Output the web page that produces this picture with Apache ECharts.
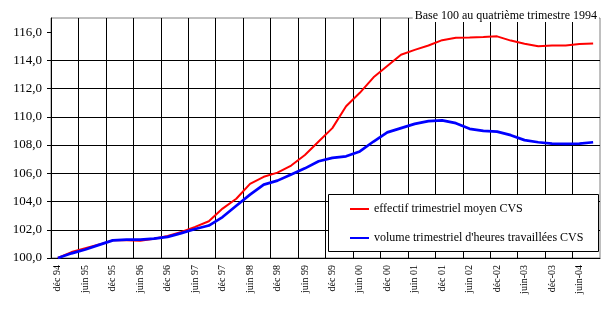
<!DOCTYPE html>
<html>
<head>
<meta charset="utf-8">
<script src="https://cdn.jsdelivr.net/npm/echarts@6/dist/echarts.min.js"></script>
<style>
  html, body { margin: 0; padding: 0; background: #fff; }
  #chart { width: 605px; height: 328px; }
</style>
</head>
<body>
<div id="chart"></div>
<script>
// Quarterly periods, fourth quarter 1994 to third quarter 2004
const quarters = [
  'déc 94', 'mars 95', 'juin 95', 'sept 95', 'déc 95', 'mars 96', 'juin 96', 'sept 96',
  'déc 96', 'mars 97', 'juin 97', 'sept 97', 'déc 97', 'mars 98', 'juin 98', 'sept 98',
  'déc 98', 'mars 99', 'juin 99', 'sept 99', 'déc 99', 'mars 00', 'juin 00', 'sept 00',
  'déc 00', 'mars 01', 'juin 01', 'sept 01', 'déc 01', 'mars 02', 'juin 02', 'sept 02',
  'déc-02', 'mars-03', 'juin-03', 'sept-03', 'déc-03', 'mars-04', 'juin-04', 'sept-04'
];

// Average quarterly headcount, seasonally adjusted (base 100 = Q4 1994)
const effectif = [
  100.0, 100.42, 100.7, 100.95, 101.25, 101.25, 101.22, 101.37,
  101.56, 101.84, 102.2, 102.6, 103.5, 104.2, 105.25, 105.75,
  106.05, 106.55, 107.3, 108.25, 109.2, 110.75, 111.7, 112.8,
  113.6, 114.4, 114.74, 115.05, 115.43, 115.6, 115.62, 115.65,
  115.7, 115.4, 115.18, 115.0, 115.05, 115.05, 115.15, 115.2
];

// Quarterly volume of hours worked, seasonally adjusted (base 100 = Q4 1994)
const volumeHeures = [
  100.0, 100.33, 100.6, 100.93, 101.25, 101.3, 101.3, 101.37,
  101.5, 101.76, 102.05, 102.3, 102.9, 103.7, 104.49, 105.2,
  105.48, 105.92, 106.35, 106.85, 107.09, 107.2, 107.55, 108.25,
  108.9, 109.2, 109.5, 109.7, 109.75, 109.55, 109.15, 109.0,
  108.95, 108.7, 108.35, 108.2, 108.1, 108.08, 108.1, 108.2
];

// Value axis ticks
const yTicks = [100, 102, 104, 106, 108, 110, 112, 114, 116];

const serif = '"Liberation Serif", "Times New Roman", serif';

const chart = echarts.init(document.getElementById('chart'), null, { renderer: 'canvas' });

chart.setOption({
  animation: false,
  backgroundColor: '#fff',
  title: {
    text: 'Base 100 au quatrième trimestre 1994',
    right: 6,
    top: 10,
    padding: [0, 2],
    backgroundColor: '#fff',
    textStyle: { fontFamily: serif, fontSize: 12, fontWeight: 'normal', color: '#000' }
  },
  grid: {
    left: 51, right: 5, top: 18, bottom: 70,
    show: true, borderColor: '#808080', borderWidth: 1,
    containLabel: false
  },
  legend: {
    orient: 'vertical',
    left: 350,
    top: 202,
    padding: 0,
    itemGap: 15,
    itemWidth: 19,
    itemHeight: 2,
    icon: 'rect',
    textStyle: { fontFamily: serif, fontSize: 12, color: '#000', lineHeight: 14 },
    data: ['effectif trimestriel moyen CVS', "volume trimestriel d'heures travaillées CVS"]
  },
  graphic: [{
    type: 'rect',
    z: 3,
    shape: { x: 328.5, y: 194.5, width: 270, height: 57 },
    style: { fill: '#fff', stroke: '#000', lineWidth: 1 }
  }],
  xAxis: {
    type: 'category',
    data: quarters,
    boundaryGap: true,
    axisLine: { lineStyle: { color: '#000', width: 1 } },
    axisTick: { interval: 1, length: 4, lineStyle: { color: '#000' } },
    axisLabel: {
      interval: 1,
      rotate: 90,
      margin: 7,
      fontFamily: serif,
      fontSize: 10,
      color: '#000'
    },
    splitLine: {
      show: true, interval: 1, showMaxLine: false,
      lineStyle: { color: '#000', width: 1 }
    }
  },
  yAxis: {
    type: 'value',
    min: 100,
    max: 117,
    interval: 2,
    axisLine: { show: true, lineStyle: { color: '#000', width: 1 } },
    axisTick: { show: true, length: 4, customValues: yTicks, lineStyle: { color: '#000' } },
    axisLabel: {
      customValues: yTicks,
      margin: 9,
      fontFamily: serif,
      fontSize: 13,
      color: '#000',
      formatter: v => v.toFixed(1).replace('.', ',')
    },
    splitLine: {
      show: true, showMaxLine: false,
      lineStyle: { color: '#000', width: 1 }
    }
  },
  series: [
    {
      name: 'effectif trimestriel moyen CVS',
      type: 'line',
      data: effectif,
      showSymbol: false,
      symbol: 'none',
      color: '#ff0000',
      lineStyle: { color: '#ff0000', width: 2 }
    },
    {
      name: "volume trimestriel d'heures travaillées CVS",
      type: 'line',
      data: volumeHeures,
      showSymbol: false,
      symbol: 'none',
      color: '#0000ff',
      lineStyle: { color: '#0000ff', width: 2.7 }
    }
  ]
});
</script>
</body>
</html>
